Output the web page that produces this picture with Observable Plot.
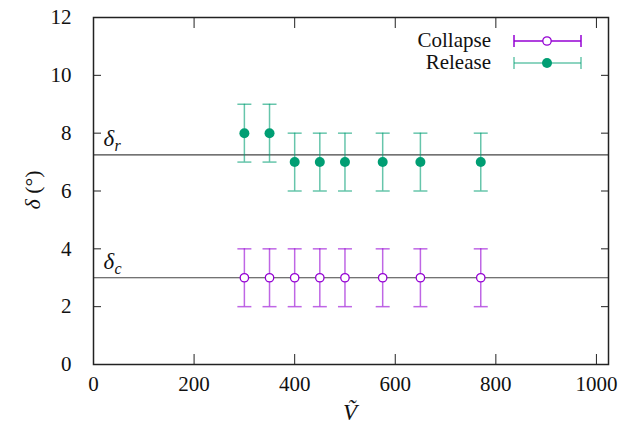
<!DOCTYPE html>
<html>
<head>
<meta charset="utf-8">
<script src="https://cdn.jsdelivr.net/npm/d3@7"></script>
<script src="https://cdn.jsdelivr.net/npm/@observablehq/plot@0.6"></script>
<style>
  html, body { margin: 0; padding: 0; background: #fff; }
  #chart { position: relative; width: 635px; height: 431px; font-family: 'Liberation Serif', serif; }
</style>
</head>
<body>
<div id="chart"></div>
<script>
// ---- data ----
const vTilde = [300, 350, 400, 450, 500, 575, 650, 770];
const collapseDelta = [3, 3, 3, 3, 3, 3, 3, 3];
const releaseDelta = [8, 8, 7, 7, 7, 7, 7, 7];
const errDelta = [1, 1, 1, 1, 1, 1, 1, 1];
const refNames = ["r", "c"];
const refValues = [7.25, 3];
const xTicks = [0, 200, 400, 600, 800, 1000];
const yTicks = [0, 2, 4, 6, 8, 10, 12];
const seriesNames = ["Collapse", "Release"];
const seriesColors = ["#9400d3", "#009e73"];

const FONT = "Liberation Serif";

const collapse = vTilde.map((v, i) => ({x: v, y: collapseDelta[i], e: errDelta[i]}));
const release = vTilde.map((v, i) => ({x: v, y: releaseDelta[i], e: errDelta[i]}));
const refs = refNames.map((n, i) => ({name: n, value: refValues[i]}));

const capSymbol = {draw(ctx) { ctx.moveTo(-7, 0); ctx.lineTo(7, 0); }};

function errMarks(data, color, filled) {
  return [
    Plot.ruleX(data, {x: "x", y1: d => d.y - d.e, y2: d => d.y + d.e, stroke: color, strokeOpacity: 0.6, strokeWidth: 1.5}),
    Plot.dot(data, {x: "x", y: d => d.y + d.e, symbol: capSymbol, stroke: color, strokeOpacity: 0.6, strokeWidth: 1.5}),
    Plot.dot(data, {x: "x", y: d => d.y - d.e, symbol: capSymbol, stroke: color, strokeOpacity: 0.6, strokeWidth: 1.5}),
    filled
      ? Plot.dot(data, {x: "x", y: "y", r: 5, fill: color, stroke: "none"})
      : Plot.dot(data, {x: "x", y: "y", r: 4.2, fill: "white", stroke: color, strokeWidth: 1.3})
  ];
}

const plot = Plot.plot({
  width: 635,
  height: 431,
  marginLeft: 93,
  marginRight: 27,
  marginTop: 17,
  marginBottom: 67,
  style: "font-family: 'Liberation Serif', serif; font-size: 21px; color: #111; background: white;",
  x: {domain: [0, 1024], label: null},
  y: {domain: [0, 12], label: null},
  marks: [
    Plot.ruleY(refs, {y: "value", stroke: "#444", strokeWidth: 1.2}),
    Plot.text(refs, {x: 0, y: "value", text: () => "δ", dx: 10, dy: -16, textAnchor: "start", fontStyle: "italic", fontSize: 23, fontFamily: FONT}),
    Plot.text(refs, {x: 0, y: "value", text: "name", dx: 21, dy: -9, textAnchor: "start", fontStyle: "italic", fontSize: 16, fontFamily: FONT}),
    ...errMarks(collapse, seriesColors[0], false),
    ...errMarks(release, seriesColors[1], true),
    Plot.axisX({anchor: "bottom", ticks: xTicks, tickSize: -10, tickPadding: 22, tickFormat: d => String(d), stroke: "#222", fontFamily: FONT}),
    Plot.axisX({anchor: "top", ticks: xTicks, tickSize: -10, tickFormat: () => "", stroke: "#222"}),
    Plot.axisY({anchor: "left", ticks: yTicks, tickSize: -8, tickPadding: 30, tickFormat: d => String(d), stroke: "#222", fontFamily: FONT}),
    Plot.axisY({anchor: "right", ticks: yTicks, tickSize: -8, tickFormat: () => "", stroke: "#222"}),
    Plot.frame({stroke: "#222", strokeWidth: 1.5})
  ]
});

const chart = document.getElementById("chart");
chart.appendChild(plot);

const svg = d3.select(plot);
const ylab = svg.append("text")
  .attr("transform", "translate(40,190) rotate(-90)")
  .attr("text-anchor", "middle")
  .attr("font-size", 22)
  .attr("fill", "#111");
ylab.append("tspan").attr("font-style", "italic").text("δ");
ylab.append("tspan").text(" (°)");

svg.append("text")
  .attr("x", 350).attr("y", 420)
  .attr("text-anchor", "middle")
  .attr("font-size", 23)
  .attr("font-style", "italic")
  .attr("fill", "#111")
  .text("V\u0303");

// legend
const leg = svg.append("g");
seriesNames.forEach((name, i) => {
  const cy = 41 + i * 22;
  const color = seriesColors[i];
  leg.append("text").attr("x", 491).attr("y", cy + 6).attr("text-anchor", "end")
    .attr("font-size", 21).attr("fill", "#111").text(name);
  leg.append("line").attr("x1", 514).attr("x2", 581).attr("y1", cy).attr("y2", cy)
    .attr("stroke", color).attr("stroke-width", 1.5).attr("stroke-opacity", i === 0 ? 1 : 0.6);
  [514, 581].forEach(x => leg.append("line").attr("x1", x).attr("x2", x).attr("y1", cy - 6).attr("y2", cy + 6)
    .attr("stroke", color).attr("stroke-width", 1.5).attr("stroke-opacity", i === 0 ? 1 : 0.6));
  if (i === 0) {
    leg.append("circle").attr("cx", 547).attr("cy", cy).attr("r", 4.2).attr("fill", "white").attr("stroke", color).attr("stroke-width", 1.3);
  } else {
    leg.append("circle").attr("cx", 547).attr("cy", cy).attr("r", 5).attr("fill", color);
  }
});

svg.attr("font-family", FONT);
svg.selectAll("g, text, tspan").attr("font-family", FONT);
</script>
</body>
</html>
